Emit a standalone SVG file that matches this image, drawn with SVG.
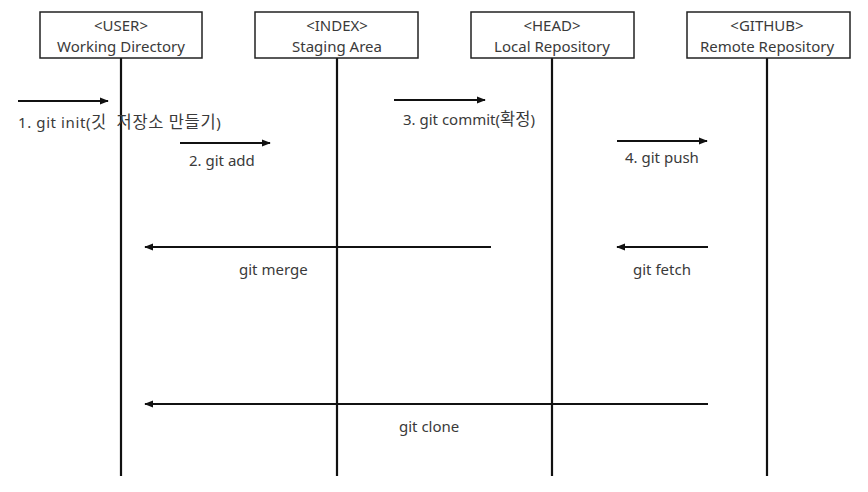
<svg xmlns="http://www.w3.org/2000/svg" width="868" height="492" viewBox="0 0 868 492">
<style>
text{font-family:"Noto Sans","Noto Sans CJK KR",sans-serif;font-size:15px;fill:#3a3a3a;white-space:pre}
.ko{font-size:16.5px}
.box{fill:#fff;stroke:#222;stroke-width:1.5}
.life{stroke:#111;stroke-width:2.2}
.arr{stroke:#111;stroke-width:2;fill:none;marker-end:url(#ah)}
.c{text-anchor:middle}
</style>
<defs>
<marker id="ah" viewBox="0 0 10 10" refX="9" refY="5" markerWidth="4.5" markerHeight="4.5" orient="auto" markerUnits="strokeWidth">
<path d="M0,1 L10,5 L0,9 z" fill="#111"/>
</marker>
</defs>
<rect width="868" height="492" fill="#fff"/>
<g id="lifelines">
<line class="life" x1="121" y1="58" x2="121" y2="476"/>
<line class="life" x1="337" y1="58" x2="337" y2="476"/>
<line class="life" x1="552" y1="58" x2="552" y2="476"/>
<line class="life" x1="767" y1="58" x2="767" y2="476"/>
</g>
<g id="user">
<rect class="box" x="40" y="12" width="162" height="46"/>
<text class="c" x="121" y="31">&lt;USER&gt;</text>
<text class="c" x="121" y="52">Working Directory</text>
</g>
<g id="index">
<rect class="box" x="255" y="12" width="163" height="46"/>
<text class="c" x="337" y="31">&lt;INDEX&gt;</text>
<text class="c" x="337" y="52">Staging Area</text>
</g>
<g id="head">
<rect class="box" x="471" y="12" width="163" height="46"/>
<text class="c" x="552" y="31">&lt;HEAD&gt;</text>
<text class="c" x="552" y="52">Local Repository</text>
</g>
<g id="github">
<rect class="box" x="687" y="12" width="163" height="46"/>
<text class="c" x="767" y="31">&lt;GITHUB&gt;</text>
<text class="c" x="767" y="52">Remote Repository</text>
</g>
<g id="connectors">
<line class="arr" x1="18" y1="101" x2="108" y2="101"/>
<line class="arr" x1="180" y1="143" x2="270" y2="143"/>
<line class="arr" x1="394" y1="100" x2="485" y2="100"/>
<line class="arr" x1="617" y1="141" x2="707" y2="141"/>
<line class="arr" x1="491" y1="247" x2="145" y2="247"/>
<line class="arr" x1="708" y1="247" x2="617" y2="247"/>
<line class="arr" x1="708" y1="404" x2="145" y2="404"/>
</g>
<g id="labels">
<text x="18" y="128" letter-spacing="0.6">1. git init(<tspan class="ko">깃  저장소 만들기</tspan>)</text>
<text x="189" y="166">2. git add</text>
<text x="403" y="125">3. git commit(<tspan class="ko">확정</tspan>)</text>
<text x="625" y="163">4. git push</text>
<text x="239" y="275">git merge</text>
<text x="633" y="275">git fetch</text>
<text x="399" y="432">git clone</text>
</g>
</svg>
